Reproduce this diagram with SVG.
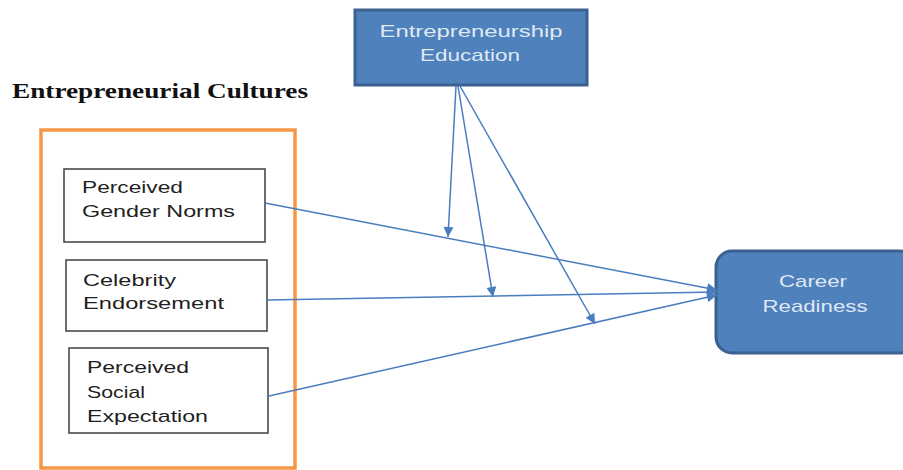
<svg xmlns="http://www.w3.org/2000/svg" width="903" height="470" viewBox="0 0 903 470">
<defs>
<style>
.box{fill:#ffffff;stroke:#3f3f3f;stroke-width:1.5}
.blue{fill:#4f81bd;stroke:#3b6190;stroke-width:3}
.t{font-family:"Liberation Sans",Arial,sans-serif;font-size:17px;fill:#1f1f1f}
.tw{font-family:"Liberation Sans",Arial,sans-serif;font-size:17px;fill:#dfe8f3}
.title{font-family:"Liberation Serif","Times New Roman",serif;font-size:21px;font-weight:bold;fill:#111}
.c{fill:none;stroke:#4a7dbf;stroke-width:1.5}
</style>
<marker id="ah" viewBox="0 0 10 10" refX="10" refY="5" markerWidth="12" markerHeight="10" markerUnits="userSpaceOnUse" orient="auto">
<path d="M0,0 L10,5 L0,10 z" fill="#4a7dbf"/>
</marker>
</defs>
<rect width="903" height="470" fill="#ffffff"/>
<text class="title" x="12" y="98" textLength="296" lengthAdjust="spacingAndGlyphs">Entrepreneurial Cultures</text>
<g id="entrepreneurial-cultures">
<rect x="41" y="130" width="254" height="338" fill="none" stroke="#f79646" stroke-width="3.5"/>
</g>
<g id="entrepreneurship-education">
<rect class="blue" x="355" y="10" width="232" height="75"/>
<text class="tw" x="471" y="37" text-anchor="middle" textLength="183" lengthAdjust="spacingAndGlyphs">Entrepreneurship</text>
<text class="tw" x="470" y="61" text-anchor="middle" textLength="100" lengthAdjust="spacingAndGlyphs">Education</text>
</g>
<g id="perceived-gender-norms">
<rect class="box" x="64" y="169" width="201" height="73"/>
<text class="t" x="82" y="193" textLength="101" lengthAdjust="spacingAndGlyphs">Perceived</text>
<text class="t" x="82" y="217" textLength="153" lengthAdjust="spacingAndGlyphs">Gender Norms</text>
</g>
<g id="celebrity-endorsement">
<rect class="box" x="66" y="260" width="201" height="71"/>
<text class="t" x="83" y="286" textLength="93" lengthAdjust="spacingAndGlyphs">Celebrity</text>
<text class="t" x="83" y="309" textLength="141" lengthAdjust="spacingAndGlyphs">Endorsement</text>
</g>
<g id="perceived-social-expectation">
<rect class="box" x="69" y="348" width="199" height="85"/>
<text class="t" x="87" y="373" textLength="102" lengthAdjust="spacingAndGlyphs">Perceived</text>
<text class="t" x="87" y="398" textLength="58" lengthAdjust="spacingAndGlyphs">Social</text>
<text class="t" x="87" y="422" textLength="121" lengthAdjust="spacingAndGlyphs">Expectation</text>
</g>
<g id="career-readiness">
<rect class="blue" x="716" y="251" width="200" height="102" rx="16" ry="16"/>
<text class="tw" x="813" y="287" text-anchor="middle" textLength="68" lengthAdjust="spacingAndGlyphs">Career</text>
<text class="tw" x="815" y="312" text-anchor="middle" textLength="105" lengthAdjust="spacingAndGlyphs">Readiness</text>
</g>
<g id="connectors">
<line class="c" x1="265" y1="203" x2="717" y2="290" marker-end="url(#ah)"/>
<line class="c" x1="267" y1="300" x2="717" y2="292" marker-end="url(#ah)"/>
<line class="c" x1="269" y1="396" x2="717" y2="295" marker-end="url(#ah)"/>
<line class="c" x1="456" y1="86" x2="448" y2="237" marker-end="url(#ah)"/>
<line class="c" x1="458" y1="86" x2="493" y2="297" marker-end="url(#ah)"/>
<line class="c" x1="460" y1="86" x2="595" y2="324" marker-end="url(#ah)"/>
</g>
</svg>
